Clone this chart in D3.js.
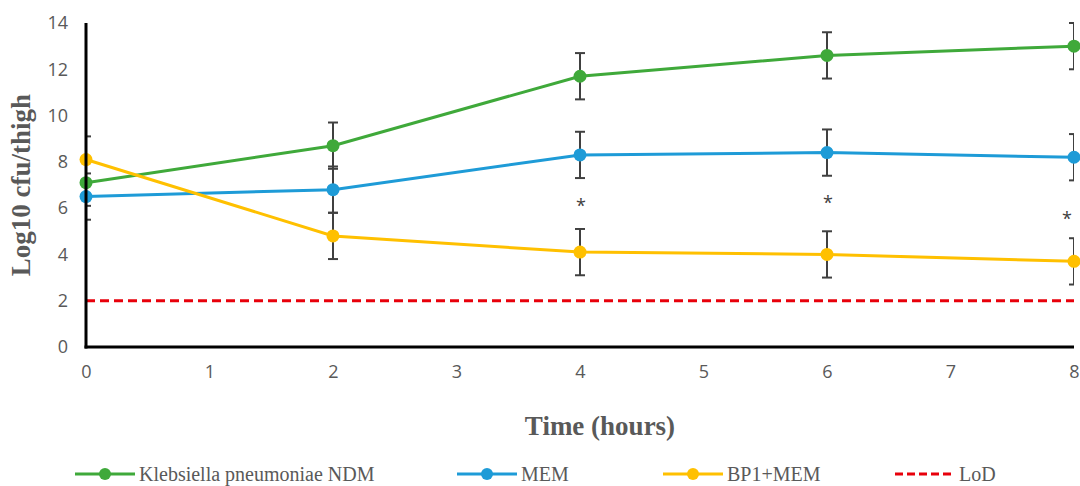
<!DOCTYPE html>
<html>
<head>
<meta charset="utf-8">
<script src="https://d3js.org/d3.v7.min.js"></script>
<style>
    body { margin: 0; background: #fff; }
    .tick text { font-family: "Open Sans", "Liberation Sans", sans-serif; font-size: 18px; fill: #595959; }
    .title { font-family: "Liberation Serif", "DejaVu Serif", serif; font-weight: bold; fill: #595959; }
    .legend text { font-family: "Liberation Serif", "DejaVu Serif", serif; font-size: 20px; fill: #595959; }
</style>
</head>
<body>
<script>
// data
var hours = [0, 2, 4, 6, 8];
var kpNdm = [7.1, 8.7, 11.7, 12.6, 13.0];
var mem = [6.5, 6.8, 8.3, 8.4, 8.2];
var bp1Mem = [8.1, 4.8, 4.1, 4.0, 3.7];
var errSize = [1.0, 1.0, 1.0, 1.0, 1.0];
var lod = 2;
var xTicks = [0, 1, 2, 3, 4, 5, 6, 7, 8];
var yTicks = [0, 2, 4, 6, 8, 10, 12, 14];
var starHours = [4, 6, 8];
var starValues = [6.2, 6.3, 5.6];

var series = [
    { name: "Klebsiella pneumoniae NDM", values: kpNdm, color: "#3FA93A" },
    { name: "MEM", values: mem, color: "#1E9BD7" },
    { name: "BP1+MEM", values: bp1Mem, color: "#FFC000" }
];

var width = 1080, height = 486;
var plotLeft = 86, plotRight = 1074, plotTop = 23, plotBottom = 347;

var svg = d3.select("body").append("svg")
    .attr("width", width)
    .attr("height", height);

var x = d3.scaleLinear().domain([0, 8]).range([plotLeft, plotRight]);
var y = d3.scaleLinear().domain([0, 14]).range([plotBottom, plotTop]);

// axes
var yAxis = svg.append("g")
    .attr("transform", "translate(" + plotLeft + ",0)")
    .call(d3.axisLeft(y).tickValues(yTicks).tickSize(0).tickPadding(18));
yAxis.select(".domain").remove();

var xAxis = svg.append("g")
    .attr("transform", "translate(0," + plotBottom + ")")
    .call(d3.axisBottom(x).tickValues(xTicks).tickSize(0).tickPadding(18));
xAxis.select(".domain").remove();

svg.append("clipPath").attr("id", "plotClip")
    .append("rect")
    .attr("x", plotLeft).attr("y", 0)
    .attr("width", plotRight - plotLeft).attr("height", height);

// limit of detection
svg.append("line")
    .attr("x1", x(0)).attr("x2", x(8))
    .attr("y1", y(lod)).attr("y2", y(lod))
    .attr("stroke", "#E8000B")
    .attr("stroke-width", 3)
    .attr("stroke-dasharray", "9,5");

var line = d3.line()
    .x(function(d, i) { return x(hours[i]); })
    .y(function(d) { return y(d); });

// error bars (clipped to plot like the original)
var errG = svg.append("g").attr("clip-path", "url(#plotClip)");
series.forEach(function(s) {
    s.values.forEach(function(v, i) {
        var cx = x(hours[i]);
        var hi = y(v + errSize[i]), lo = y(v - errSize[i]);
        errG.append("line")
            .attr("x1", cx).attr("x2", cx).attr("y1", hi).attr("y2", lo)
            .attr("stroke", "#404040").attr("stroke-width", 2);
        [hi, lo].forEach(function(yy) {
            errG.append("line")
                .attr("x1", cx - 5).attr("x2", cx + 5).attr("y1", yy).attr("y2", yy)
                .attr("stroke", "#404040").attr("stroke-width", 2);
        });
    });
});

// series lines and markers
series.forEach(function(s) {
    svg.append("path")
        .datum(s.values)
        .attr("fill", "none")
        .attr("stroke", s.color)
        .attr("stroke-width", 3)
        .attr("d", line);
    svg.selectAll(null)
        .data(s.values)
        .enter()
        .append("circle")
        .attr("cx", function(d, i) { return x(hours[i]); })
        .attr("cy", function(d) { return y(d); })
        .attr("r", 6.5)
        .attr("fill", s.color);
});

// significance marks
svg.selectAll(null)
    .data(starValues)
    .enter()
    .append("text")
    .attr("x", function(d, i) { return x(starHours[i]) + (i === 2 ? -7 : 1); })
    .attr("y", function(d) { return y(d) + 8; })
    .attr("text-anchor", "middle")
    .style("font-family", "'Open Sans', sans-serif")
    .style("font-size", "18px")
    .style("fill", "#404040")
    .text("*");

// axis lines on top
svg.append("line")
    .attr("x1", plotLeft).attr("x2", plotLeft).attr("y1", plotTop).attr("y2", plotBottom + 1.5)
    .attr("stroke", "#000").attr("stroke-width", 3);
svg.append("line")
    .attr("x1", plotLeft - 1.5).attr("x2", plotRight).attr("y1", plotBottom).attr("y2", plotBottom)
    .attr("stroke", "#000").attr("stroke-width", 3);

// titles
svg.append("text")
    .attr("class", "title")
    .attr("transform", "translate(30," + ((plotTop + plotBottom) / 2) + ") rotate(-90)")
    .attr("text-anchor", "middle")
    .style("font-size", "27px")
    .text("Log10 cfu/thigh");

svg.append("text")
    .attr("class", "title")
    .attr("x", 600).attr("y", 435)
    .attr("text-anchor", "middle")
    .style("font-size", "27px")
    .text("Time (hours)");

// legend
var legendItems = [
    { name: series[0].name, color: series[0].color, x: 75, dash: false },
    { name: series[1].name, color: series[1].color, x: 457, dash: false },
    { name: series[2].name, color: series[2].color, x: 663, dash: false },
    { name: "LoD", color: "#E8000B", x: 895, dash: true }
];
var legend = svg.append("g").attr("class", "legend");
var ly = 474;
legendItems.forEach(function(it) {
    legend.append("line")
        .attr("x1", it.x).attr("x2", it.x + 60)
        .attr("y1", ly).attr("y2", ly)
        .attr("stroke", it.color)
        .attr("stroke-width", 3)
        .attr("stroke-dasharray", it.dash ? "8,4" : null);
    if (!it.dash) {
        legend.append("circle")
            .attr("cx", it.x + 30).attr("cy", ly).attr("r", 6)
            .attr("fill", it.color);
    }
    legend.append("text")
        .attr("x", it.x + 64).attr("y", ly + 7)
        .text(it.name);
});
</script>
</body>
</html>
